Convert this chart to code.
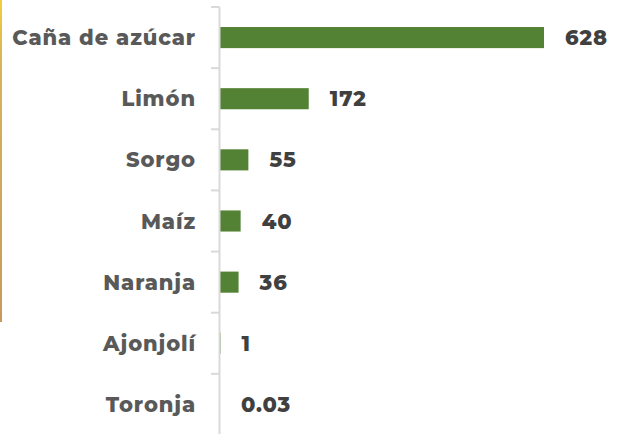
<!DOCTYPE html>
<html>
<head>
<meta charset="utf-8">
<script src="https://cdn.jsdelivr.net/npm/d3@7"></script>
<style>
  body { margin: 0; background: #fff; }
  svg { display: block; }
</style>
</head>
<body>
<div id="chart"></div>
<script>
const categories = ["Caña de azúcar", "Limón", "Sorgo", "Maíz", "Naranja", "Ajonjolí", "Toronja"];
const values = [628, 172, 55, 40, 36, 1, 0.03];
const valueLabels = ["628", "172", "55", "40", "36", "1", "0.03"];

const width = 623;
const height = 434;
const margin = { top: 7, right: 79, bottom: -1, left: 220 };

const data = categories.map((c, i) => ({ name: c, value: values[i], label: valueLabels[i] }));

const svg = d3
  .select("#chart")
  .append("svg")
  .attr("width", width)
  .attr("height", height);

// golden strip on the left edge
const grad = svg
  .append("defs")
  .append("linearGradient")
  .attr("id", "edge")
  .attr("x1", "0%")
  .attr("x2", "0%")
  .attr("y1", "0%")
  .attr("y2", "100%");
grad.append("stop").attr("offset", "0%").style("stop-color", "#f0cf3c");
grad.append("stop").attr("offset", "18%").style("stop-color", "#d9b45a");
grad.append("stop").attr("offset", "100%").style("stop-color", "#c79a5c");
svg
  .append("rect")
  .attr("x", 0)
  .attr("y", 0)
  .attr("width", 2)
  .attr("height", 322)
  .attr("fill", "url(#edge)");

const x = d3
  .scaleLinear()
  .domain([0, 628])
  .range([margin.left, width - margin.right]);

const y = d3
  .scaleBand()
  .domain(categories)
  .range([margin.top, height - margin.bottom])
  .paddingInner(0.655)
  .paddingOuter(0.3275);

// bars
svg
  .append("g")
  .selectAll("rect")
  .data(data)
  .join("rect")
  .attr("x", x(0))
  .attr("y", (d) => y(d.name))
  .attr("width", (d) => x(d.value) - x(0))
  .attr("height", y.bandwidth())
  .attr("fill", "#548235");

// axis line with ticks at band boundaries
const axis = svg.append("g").attr("stroke", "#d9d9d9").attr("stroke-width", 2);
const x0 = x(0) - 0.5;
axis
  .append("line")
  .attr("x1", x0)
  .attr("x2", x0)
  .attr("y1", margin.top)
  .attr("y2", height);
const bounds = d3.range(categories.length + 1).map((i) => margin.top + i * y.step());
axis
  .selectAll(".tick")
  .data(bounds)
  .join("line")
  .attr("x1", x0 - 8.5)
  .attr("x2", x0)
  .attr("y1", (d) => d)
  .attr("y2", (d) => d);

const font = "Montserrat, 'Open Sans', sans-serif";

// category labels
svg
  .append("g")
  .selectAll("text")
  .data(data)
  .join("text")
  .attr("x", 196)
  .attr("y", (d) => y(d.name) + y.bandwidth() / 2)
  .attr("dy", "0.36em")
  .attr("text-anchor", "end")
  .attr("fill", "#595959")
  .style("font-family", font)
  .style("font-weight", 800)
  .style("font-size", "21px")
  .style("letter-spacing", "0.9px")
  .text((d) => d.name);

// value labels
svg
  .append("g")
  .selectAll("text")
  .data(data)
  .join("text")
  .attr("x", (d) => x(d.value) + 21)
  .attr("y", (d) => y(d.name) + y.bandwidth() / 2)
  .attr("dy", "0.36em")
  .attr("fill", "#404040")
  .style("font-family", font)
  .style("font-weight", 800)
  .style("font-size", "21px")
  .style("letter-spacing", "0.9px")
  .text((d) => d.label);
</script>
</body>
</html>
